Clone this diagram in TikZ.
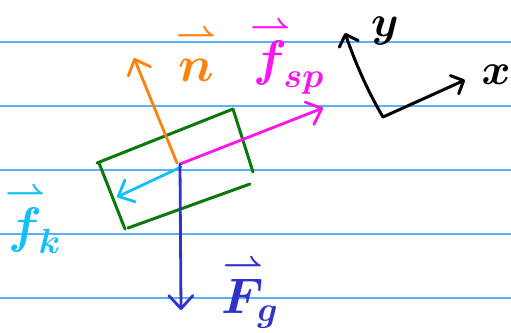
\RequirePackage{fix-cm}
\documentclass[tikz,border=0pt]{standalone}
\usepackage{amsmath}
\usetikzlibrary{arrows.meta}
\definecolor{rule}{RGB}{90,175,255}
\definecolor{boxgreen}{RGB}{10,120,10}
\definecolor{nor}{RGB}{255,130,10}
\definecolor{sp}{RGB}{255,20,240}
\definecolor{kin}{RGB}{20,190,255}
\definecolor{grav}{RGB}{50,50,200}
\tikzset{
  ruleline/.style={rule, line width=1.3pt},
  boxside/.style={boxgreen, line width=3pt, line cap=round},
  force/.style={line width=2.8pt, line cap=round, line join=round,
    -{Straight Barb[length=13pt,width=24pt,line cap=round,line join=round]}},
  axis/.style={black, line width=3pt, line cap=round, line join=round,
    -{Straight Barb[length=10pt,width=20pt,line cap=round,line join=round]}},
  lbl/.style={inner sep=0pt, font=\fontsize{50}{50}\selectfont\boldmath},
}
\begin{document}
\begin{tikzpicture}[x=1pt,y=-1pt]
\useasboundingbox (0,0) rectangle (511,332);
% ruled lines
\foreach \yy [count=\i] in {42,106,170,234,298}
  \draw[ruleline] (0,\yy) coordinate (L\i) -- (511,\yy) coordinate (R\i);
% box
\coordinate (b1) at (97,163);
\coordinate (b2) at (233,109);
\coordinate (b3) at (253,172);
\coordinate (b4) at (250,184);
\coordinate (b5) at (128,228);
\coordinate (b6) at (125,229);
\coordinate (b7) at (99,163);
\draw[boxside] (b1) -- (b2);
\draw[boxside] (b2) -- (b3);
\draw[boxside] (b4) -- (b5);
\draw[boxside] (b7) -- (b6);
% centre and tips
\coordinate (c) at (180,164);
\coordinate (ntip) at (134,58);
\coordinate (sptip) at (323,108);
\coordinate (ktip) at (117,197);
\coordinate (gtip) at (181,310);
\draw[force, nor] (177,163) coordinate (no) -- (ntip);
\draw[force, sp] (c) -- (sptip);
\draw[force, kin] (181,167) coordinate (ko) -- (ktip);
\draw[force, grav] (c) -- (gtip);
% axes
\coordinate (o) at (383,117);
\coordinate (ytip) at (345,33);
\coordinate (xtip) at (465,80);
\draw[axis] (o) .. controls (368,92) and (355,62) .. (ytip);
\draw[axis] (o) -- (xtip);
% labels
\node[lbl, text=nor] (nl) at (196,55) {$\overset{\rightharpoonup}{\vphantom{t}n}$};
\node[lbl, text=sp] (spl) at (287,57) {$\overset{\rightharpoonup}{f}_{\!sp}$};
\node[lbl, text=kin] (kl) at (33,220) {$\overset{\rightharpoonup}{f}_{\!k}$};
\node[lbl, text=grav] (gl) at (250,293) {$\overset{\rightharpoonup}{F}_{\!g}$};
\node[lbl, text=black, font=\fontsize{44}{44}\selectfont\boldmath] (yl) at (385,31) {$y$};
\node[lbl, text=black, font=\fontsize{44}{44}\selectfont\boldmath] (xl) at (496,75) {$x$};
\end{tikzpicture}
\end{document}
